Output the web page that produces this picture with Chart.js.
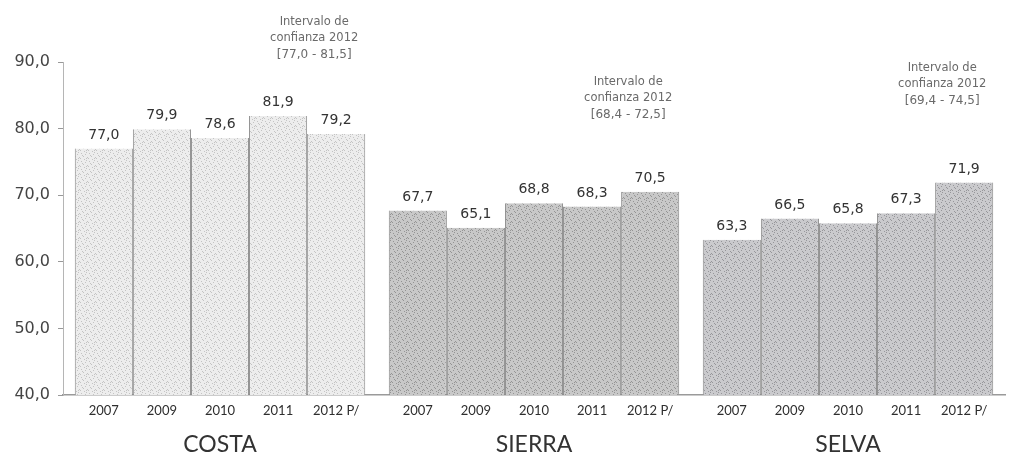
<!DOCTYPE html>
<html>
<head>
<meta charset="utf-8">
<script src="https://cdn.jsdelivr.net/npm/chart.js@4/dist/chart.umd.min.js"></script>
<style>
  body { margin: 0; background: #fff; }
  #box { width: 1015px; height: 462px; }
</style>
</head>
<body>
<div id="box"><canvas id="chart" width="1015" height="462"></canvas></div>
<script>
const regions = ["COSTA", "SIERRA", "SELVA"];
const years = ["2007", "2009", "2010", "2011", "2012 P/"];
const costa = [77.0, 79.9, 78.6, 81.9, 79.2];
const sierra = [67.7, 65.1, 68.8, 68.3, 70.5];
const selva = [63.3, 66.5, 65.8, 67.3, 71.9];
const ciLow = [77.0, 68.4, 69.4];
const ciHigh = [81.5, 72.5, 74.5];
const yMin = 40;
const yMax = 90;

const canvas = document.getElementById("chart");
const ctx = canvas.getContext("2d");

// grainy fill to look like the scanned columns
function stipple(base, dot) {
  const c = document.createElement("canvas");
  c.width = 8;
  c.height = 8;
  const g = c.getContext("2d");
  g.fillStyle = base;
  g.fillRect(0, 0, 8, 8);
  g.fillStyle = dot;
  const pts = [[1, 1], [5, 2], [3, 4], [7, 5], [0, 6], [4, 7], [6, 0], [2, 3], [6, 6]];
  for (let i = 0; i < pts.length; i++) {
    g.fillRect(pts[i][0], pts[i][1], 1, 1);
  }
  return ctx.createPattern(c, "repeat");
}

const regionFills = [
  stipple("#ededed", "#c4c4c4"),
  stipple("#c8c8c8", "#949494"),
  stipple("#cacacd", "#96969a"),
];

const byRegion = [costa, sierra, selva];
const datasets = [];
for (let j = 0; j < years.length; j++) {
  datasets.push({
    label: years[j],
    data: byRegion.map((r) => r[j]),
    backgroundColor: regionFills,
    borderColor: "#8c8c8c",
    borderWidth: { left: 1, right: 1, top: 0, bottom: 0 },
    borderSkipped: "start",
    barPercentage: 1,
    categoryPercentage: 0.925,
  });
}

function fmt(v) {
  return v.toFixed(1).replace(".", ",");
}

const barText = {
  id: "barText",
  afterDatasetsDraw(chart) {
    const c = chart.ctx;
    const yScale = chart.scales.y;
    const base = yScale.getPixelForValue(yMin);
    c.save();
    c.textAlign = "center";
    chart.data.datasets.forEach((ds, di) => {
      chart.getDatasetMeta(di).data.forEach((bar, i) => {
        c.fillStyle = "#333";
        c.font = '14px "DejaVu Sans"';
        c.textBaseline = "alphabetic";
        c.fillText(fmt(ds.data[i]), bar.x, bar.y - 10);
        c.fillStyle = "#2e2e2e";
        c.font = "13px Lato";
        c.textBaseline = "middle";
        c.fillText(ds.label, bar.x, base + 16);
      });
    });
    // confidence interval notes above the 2012 column
    const last = chart.getDatasetMeta(years.length - 1).data;
    c.fillStyle = "#6a6a6a";
    c.textBaseline = "middle";
    for (let i = 0; i < regions.length; i++) {
      const x = last[i].x - 22;
      const yb = yScale.getPixelForValue(ciHigh[i]) - 64;
      c.font = '11.5px "DejaVu Sans"';
      c.fillText("Intervalo de", x, yb - 33);
      c.fillText("confianza 2012", x, yb - 17);
      c.font = '12px "DejaVu Sans"';
      c.fillText("[" + fmt(ciLow[i]) + " - " + fmt(ciHigh[i]) + "]", x, yb);
    }
    c.restore();
  },
};

new Chart(canvas, {
  type: "bar",
  data: { labels: regions, datasets: datasets },
  options: {
    responsive: false,
    animation: false,
    layout: { padding: { top: 62, right: 10, bottom: 4, left: 0 } },
    plugins: {
      legend: { display: false },
      tooltip: { enabled: false },
    },
    scales: {
      x: {
        afterFit(scale) {
          scale.height = 63;
        },
        grid: { display: false, drawTicks: false },
        border: { color: "#9a9a9a", width: 1.5 },
        ticks: {
          padding: 36,
          color: "#333",
          font: { family: "Lato", size: 23 },
        },
      },
      y: {
        min: yMin,
        max: yMax,
        afterFit(scale) {
          scale.width = 63;
        },
        grid: { drawOnChartArea: false, tickLength: 5, color: "#999" },
        border: { color: "#b5b5b5", dash: [2, 2] },
        ticks: {
          stepSize: 10,
          padding: 8,
          color: "#444",
          font: { family: "DejaVu Sans", size: 16 },
          callback: (v) => fmt(v),
        },
      },
    },
  },
  plugins: [barText],
});
</script>
</body>
</html>
